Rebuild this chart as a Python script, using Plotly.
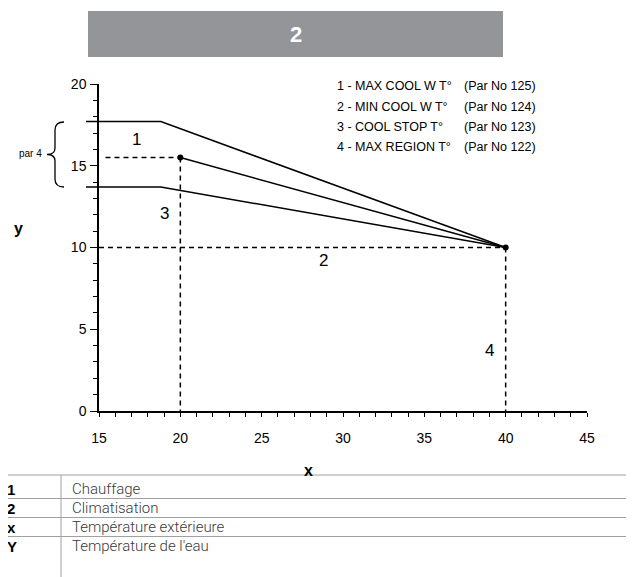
import plotly.graph_objects as go

# page has an 8px body margin; figure is sized to fill the rest of the window
OFF = 8
W, H = 634 - OFF, 577 - OFF

# ---- data ----
line1_x = [14.2, 18.8, 40]
line1_y = [17.7, 17.7, 10]
line2_x = [20, 40]
line2_y = [15.5, 10]
line3_x = [14.2, 18.8, 40]
line3_y = [13.7, 13.7, 10]
dash_h1_x = [15.4, 20]
dash_h1_y = [15.5, 15.5]
dash_v1_x = [20, 20]
dash_v1_y = [15.5, 0]
dash_h2_x = [15, 40]
dash_h2_y = [10, 10]
dash_v2_x = [40, 40]
dash_v2_y = [10, 0]
dots_x = [20, 40]
dots_y = [15.5, 10]

x_ticks = [15, 20, 25, 30, 35, 40, 45]
y_ticks = [0, 5, 10, 15, 20]

curve_labels = ["1", "3", "2", "4"]
curve_label_x = [17.3, 19.05, 28.8, 39.0]
curve_label_y = [16.6, 12.05, 9.2, 3.7]

legend_left = ["1 - MAX COOL W T°", "2 - MIN COOL W T°", "3 - COOL STOP T°", "4 - MAX REGION T°"]
legend_right = ["(Par No 125)", "(Par No 124)", "(Par No 123)", "(Par No 122)"]

table_keys = ["1", "2", "x", "Y"]
table_vals = ["Chauffage", "Climatisation", "Température extérieure", "Température de l'eau"]

title_text = "2"


def px(x):
    return (x - OFF) / W


def py(y):
    return 1 - (y - OFF) / H


X0, X1 = 99, 587     # window pixel of x=15 and x=45
Y0, Y1 = 411, 84     # window pixel of y=0 and y=20
ppu = (X1 - X0) / 30.0

fig = go.Figure()

solid = dict(color="black", width=1.5)
dashed = dict(color="black", width=1.5, dash="5px,4px")

for xs, ys in [(line1_x, line1_y), (line2_x, line2_y), (line3_x, line3_y)]:
    fig.add_trace(go.Scatter(x=xs, y=ys, mode="lines", line=solid,
                             xaxis="x2", yaxis="y", showlegend=False, hoverinfo="skip"))
for xs, ys in [(dash_h1_x, dash_h1_y), (dash_v1_x, dash_v1_y), (dash_h2_x, dash_h2_y), (dash_v2_x, dash_v2_y)]:
    fig.add_trace(go.Scatter(x=xs, y=ys, mode="lines", line=dashed,
                             xaxis="x2", yaxis="y", showlegend=False, hoverinfo="skip"))
fig.add_trace(go.Scatter(x=dots_x, y=dots_y, mode="markers", marker=dict(color="black", size=6),
                         xaxis="x", yaxis="y", showlegend=False, hoverinfo="skip", cliponaxis=False))

annotations = []
for t, xv, yv in zip(curve_labels, curve_label_x, curve_label_y):
    annotations.append(dict(x=xv, y=yv, xref="x2", yref="y", text=t, showarrow=False,
                            xanchor="center", yanchor="middle",
                            font=dict(family="Liberation Sans", size=17, color="black")))

leg_font = dict(family="Liberation Sans", size=12.5, color="black")
for i, (a, b) in enumerate(zip(legend_left, legend_right)):
    yy = 86 + i * 20.5
    annotations.append(dict(x=px(335), y=py(yy), xref="paper", yref="paper", text=a, showarrow=False,
                            xanchor="left", yanchor="middle", font=leg_font))
    annotations.append(dict(x=px(462), y=py(yy), xref="paper", yref="paper", text=b, showarrow=False,
                            xanchor="left", yanchor="middle", font=leg_font))

# title banner text
annotations.append(dict(x=px(295.5), y=py(34), xref="paper", yref="paper", text="<b>%s</b>" % title_text,
                        showarrow=False, xanchor="center", yanchor="middle",
                        font=dict(family="Liberation Sans", size=22, color="white")))
# axis labels
annotations.append(dict(x=px(18), y=py(229), xref="paper", yref="paper", text="<b>y</b>", showarrow=False,
                        xanchor="center", yanchor="middle",
                        font=dict(family="Liberation Sans", size=16, color="black")))
annotations.append(dict(x=px(308), y=py(470), xref="paper", yref="paper", text="<b>x</b>", showarrow=False,
                        xanchor="center", yanchor="middle",
                        font=dict(family="Liberation Sans", size=16, color="black")))
# par 4
annotations.append(dict(x=px(44), y=py(154), xref="paper", yref="paper", text="par 4", showarrow=False,
                        xanchor="right", yanchor="middle",
                        font=dict(family="Liberation Sans", size=10, color="black")))

# table
row_y = [489, 508, 527, 546]
for k, v, ry in zip(table_keys, table_vals, row_y):
    annotations.append(dict(x=px(5), y=py(ry), xref="paper", yref="paper", text="<b>%s</b>" % k,
                            showarrow=False, xanchor="left", yanchor="middle",
                            font=dict(family="Liberation Sans", size=15, color="black")))
    annotations.append(dict(x=px(70), y=py(ry), xref="paper", yref="paper", text=v,
                            showarrow=False, xanchor="left", yanchor="middle",
                            font=dict(family="Roboto", size=15, color="#3a3a3a", weight=300)))

shapes = []
shapes.append(dict(type="rect", xref="paper", yref="paper", x0=px(88), x1=px(503), y0=py(57), y1=py(11),
                   fillcolor="#939598", line=dict(width=0), layer="below"))
# brace
pts = "M {a},{b} Q {c},{b} {c},{d} L {c},{e} Q {c},{f} {g},{f} Q {c},{f} {c},{h} L {c},{i} Q {c},{j} {a},{j}".format(
    a=px(64), b=py(122), c=px(55), d=py(130), e=py(148), f=py(154.5), g=px(47), h=py(161), i=py(179), j=py(187))
shapes.append(dict(type="path", xref="paper", yref="paper", path=pts, line=dict(color="black", width=1.3)))

tbl_line = dict(color="#a0a0a0", width=1)
for yy in [475, 498.5, 517.5, 536.5]:
    shapes.append(dict(type="line", xref="paper", yref="paper", x0=px(0), x1=1, y0=py(yy), y1=py(yy), line=tbl_line))
shapes.append(dict(type="line", xref="paper", yref="paper", x0=px(61), x1=px(61), y0=py(475), y1=0, line=tbl_line))

tick_font = dict(family="Liberation Sans", size=14, color="black")

fig.update_layout(
    width=W, height=H,
    margin=dict(l=0, r=0, t=0, b=0),
    paper_bgcolor="white", plot_bgcolor="rgba(0,0,0,0)",
    showlegend=False,
    xaxis=dict(domain=[px(X0), px(X1)], range=[15, 45], anchor="y",
               tickmode="array", tickvals=x_ticks, ticks="outside", ticklen=4, tickwidth=1.2,
               tickcolor="black", showline=True, linecolor="black", linewidth=1.5,
               showgrid=False, zeroline=False, tickfont=tick_font, ticklabelstandoff=9,
               minor=dict(tickmode="linear", tick0=15, dtick=1, ticks="outside", ticklen=4,
                          tickcolor="black", tickwidth=1.2, showgrid=False),
               automargin=False, fixedrange=True),
    xaxis2=dict(domain=[px(X0 - ppu), px(X1)], range=[14, 45], anchor="y", visible=False,
                showgrid=False, zeroline=False, fixedrange=True),
    yaxis=dict(domain=[py(Y0), py(Y1)], range=[0, 20], anchor="x",
               tickmode="array", tickvals=y_ticks, ticks="outside", ticklen=7, tickwidth=1.2,
               tickcolor="black", showline=True, linecolor="black", linewidth=1.5,
               showgrid=False, zeroline=False, tickfont=tick_font, ticklabelstandoff=1,
               minor=dict(tickmode="linear", tick0=0, dtick=1, ticks="outside", ticklen=4,
                          tickcolor="black", tickwidth=1.2, showgrid=False),
               automargin=False, fixedrange=True),
    annotations=annotations,
    shapes=shapes,
)

fig.write_html("out.html", config={"displayModeBar": False})
